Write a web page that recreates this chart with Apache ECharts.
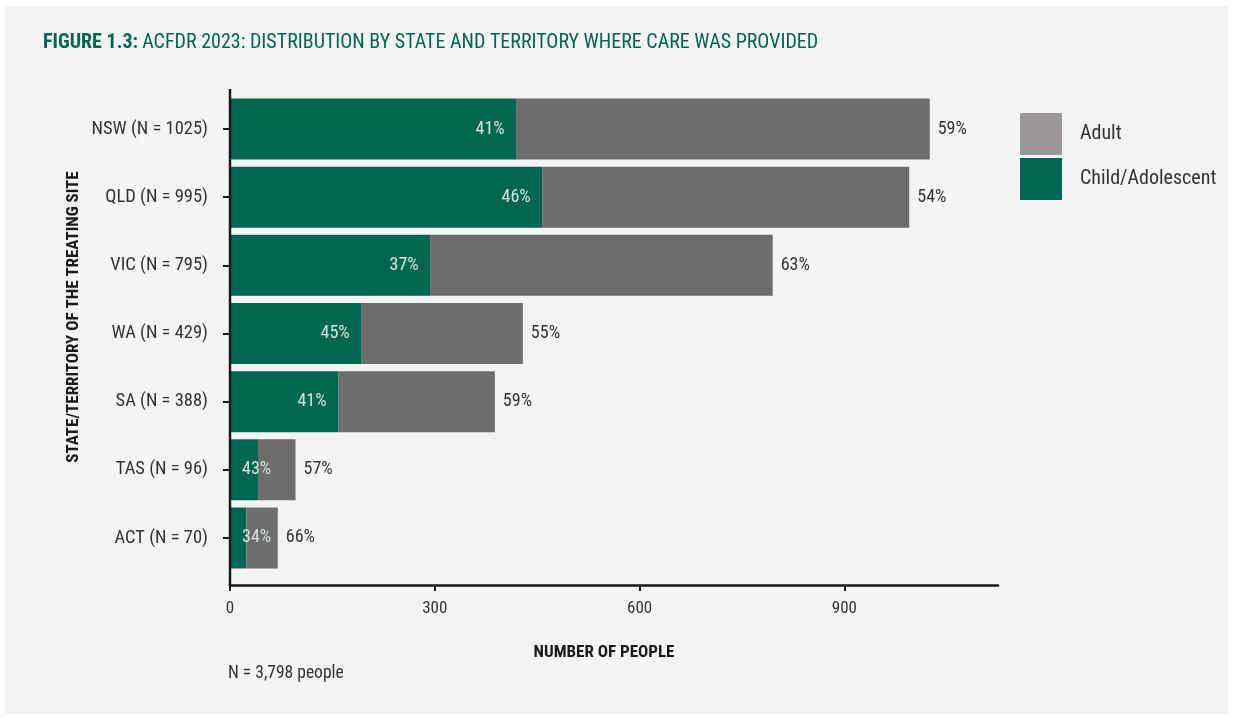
<!DOCTYPE html>
<html>
<head>
<meta charset="utf-8">
<script src="https://cdn.jsdelivr.net/npm/echarts@6/dist/echarts.min.js"></script>
<style>
  html, body { margin: 0; padding: 0; background: #ffffff; }
  #chart { width: 1237px; height: 718px; }
</style>
</head>
<body>
<div id="chart"></div>
<script>
var categories = ['NSW (N = 1025)', 'QLD (N = 995)', 'VIC (N = 795)', 'WA (N = 429)', 'SA (N = 388)', 'TAS (N = 96)', 'ACT (N = 70)'];
var childPeople = [420, 458, 294, 193, 159, 41, 24];
var adultPeople = [605, 537, 501, 236, 229, 55, 46];
var childPct = [41, 46, 37, 45, 41, 43, 34];
var adultPct = [59, 54, 63, 55, 59, 57, 66];
var xTicks = [0, 300, 600, 900];

var FONT = "'Liberation Sans Narrow', 'Roboto Condensed', 'DejaVu Sans Condensed', 'Noto Sans', sans-serif";
var GREEN = '#006650';
var GREY = '#6f6c6e';

var gridLeft = 230, gridTop = 95, gridHeight = 477, axisRight = 998;

var chart = echarts.init(document.getElementById('chart'));

// small bars get their label on the left side
var childData = childPeople.map(function (v, i) {
    return {
        value: v,
        label: { position: v < 100 ? 'insideLeft' : 'insideRight' }
    };
});

option = {
    backgroundColor: '#ffffff',
    textStyle: { fontFamily: FONT },
    title: {
        left: 38,
        top: 28,
        text: '{b|FIGURE 1.3:} {r|ACFDR 2023: DISTRIBUTION BY STATE AND TERRITORY WHERE CARE WAS PROVIDED}',
        textStyle: {
            rich: {
                b: { fontFamily: FONT, fontSize: 20, fontWeight: 'bold', color: '#00664f' },
                r: { fontFamily: FONT, fontSize: 20, fontWeight: 'normal', color: '#00664f' }
            }
        }
    },
    legend: {
        orient: 'vertical',
        left: 1020,
        top: 113,
        itemWidth: 42,
        itemHeight: 42,
        itemGap: 3,
        icon: 'rect',
        padding: 0,
        textStyle: { fontFamily: FONT, fontSize: 20, color: '#333333', padding: [7, 0, 0, 13] },
        data: [
            { name: 'Adult', itemStyle: { color: '#9b9798' } },
            { name: 'Child/Adolescent', itemStyle: { color: GREEN } }
        ]
    },
    grid: {
        left: gridLeft,
        top: gridTop,
        width: axisRight - gridLeft,
        height: gridHeight
    },
    xAxis: {
        type: 'value',
        min: 0,
        max: 1125,
        interval: 300,
        offset: 13,
        name: 'NUMBER OF PEOPLE',
        nameLocation: 'middle',
        nameGap: 59,
        nameTextStyle: { fontFamily: FONT, fontSize: 17, fontWeight: 'bold', color: '#1a1a1a', padding: [0, 20, 0, 0] },
        splitLine: { show: false },
        axisLine: { show: true, lineStyle: { color: '#1a1a1a', width: 2.5 } },
        axisTick: { show: true, length: 6, customValues: xTicks, lineStyle: { color: '#1a1a1a', width: 2 } },
        axisLabel: { margin: 15, customValues: xTicks, fontFamily: FONT, fontSize: 17, color: '#333333' }
    },
    yAxis: {
        type: 'category',
        inverse: true,
        data: categories,
        axisLine: { show: false },
        axisTick: { show: true, alignWithLabel: true, length: 7, lineStyle: { color: '#1a1a1a', width: 2 } },
        axisLabel: { margin: 22, fontFamily: FONT, fontSize: 18.5, color: '#333333' }
    },
    graphic: [
        {
            type: 'rect',
            silent: true,
            z: -100,
            shape: { x: 5, y: 6, width: 1223, height: 708 },
            style: { fill: '#f4f4f4' }
        },
        {
            type: 'line',
            silent: true,
            z: 10,
            shape: { x1: gridLeft, y1: 89, x2: gridLeft, y2: gridTop + gridHeight + 14 },
            style: { stroke: '#1a1a1a', lineWidth: 2.5 }
        },
        {
            type: 'text',
            silent: true,
            x: 74,
            y: 317,
            rotation: Math.PI / 2,
            style: {
                text: 'STATE/TERRITORY OF THE TREATING SITE',
                font: 'bold 17px ' + FONT,
                fill: '#1a1a1a',
                align: 'center',
                verticalAlign: 'middle'
            }
        },
        {
            type: 'text',
            silent: true,
            x: 228,
            y: 674,
            style: {
                text: 'N = 3,798 people',
                font: '17.5px ' + FONT,
                fill: '#333333',
                align: 'left',
                verticalAlign: 'middle'
            }
        }
    ],
    series: [
        {
            name: 'Child/Adolescent',
            type: 'bar',
            stack: 'total',
            barWidth: 61,
            itemStyle: { color: GREEN },
            label: {
                show: true,
                distance: 12,
                fontFamily: FONT,
                fontSize: 18,
                color: '#d3e5dd',
                formatter: function (p) { return childPct[p.dataIndex] + '%'; }
            },
            data: childData
        },
        {
            name: 'Adult',
            type: 'bar',
            stack: 'total',
            barWidth: 61,
            itemStyle: { color: GREY },
            label: {
                show: true,
                position: 'right',
                distance: 8,
                fontFamily: FONT,
                fontSize: 18,
                color: '#333333',
                formatter: function (p) { return adultPct[p.dataIndex] + '%'; }
            },
            data: adultPeople
        }
    ]
};

chart.setOption(option);
</script>
</body>
</html>
